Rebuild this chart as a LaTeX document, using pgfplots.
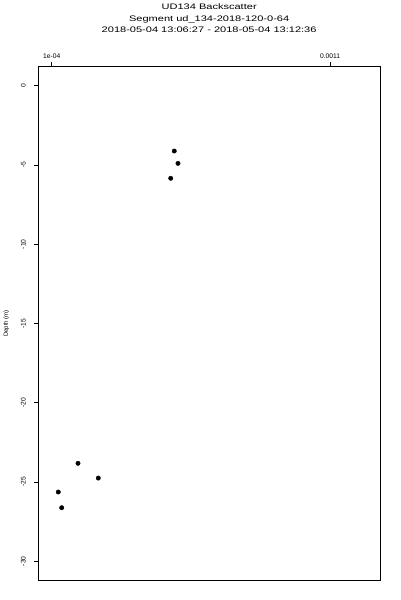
\documentclass[border=0pt]{standalone}
\usepackage{fontspec}
\setmainfont{Liberation Sans}
\newfontfamily\titlefont{Liberation Sans}[FakeStretch=1.38]
\usepackage{pgfplots}
\pgfplotsset{compat=1.18}
\begin{document}
\begin{tikzpicture}
\useasboundingbox (-38.3pt,-20pt) rectangle (361.7pt,580pt);
\begin{axis}[
  at={(0pt,0pt)}, anchor=south west,
  scale only axis,
  width=341.7pt, height=513.3pt,
  xmin=5.185e-5, xmax=1.27966e-3,
  ymin=-31.18, ymax=1.199,
  axis line style={line width=0.8pt},
  every tick/.style={line width=0.8pt, black},
  tick align=outside,
  major tick length=4.5pt,
  xtick pos=upper, xticklabel pos=upper,
  ytick pos=lower,
  xtick={1e-4,1.1e-3},
  xticklabels={1e-04,0.0011},
  scaled x ticks=false,
  ytick={-30,-25,-20,-15,-10,-5,0},
  yticklabels={-30,-25,-20,-15,-10,-5,0},
  ticklabel style={font=\fontsize{6.7}{8}\selectfont},
  yticklabel style={rotate=90, anchor=south},
  yticklabel shift=4.5pt,
  xticklabel style={anchor=south},
  ylabel={Depth (m)},
  ylabel style={font=\fontsize{6}{7}\selectfont, at={(axis description cs:-0.0937,0.5)}, anchor=center},
  title={UD134 Backscatter\\Segment ud\_134-2018-120-0-64\\2018-05-04 13:06:27 - 2018-05-04 13:12:36},
  title style={font=\titlefont\fontsize{8}{11.5}\selectfont, align=center, at={(axis description cs:0.5,1)}, anchor=center, yshift=42.5pt, inner sep=0pt},
]
\addplot[only marks, mark=*, mark size=2.2pt, black] coordinates {
(5.405e-4,-4.12)
(5.538e-4,-4.90)
(5.276e-4,-5.84)
(1.945e-4,-23.82)
(2.674e-4,-24.75)
(1.237e-4,-25.63)
(1.359e-4,-26.62)
};
\end{axis}
\end{tikzpicture}
\end{document}
